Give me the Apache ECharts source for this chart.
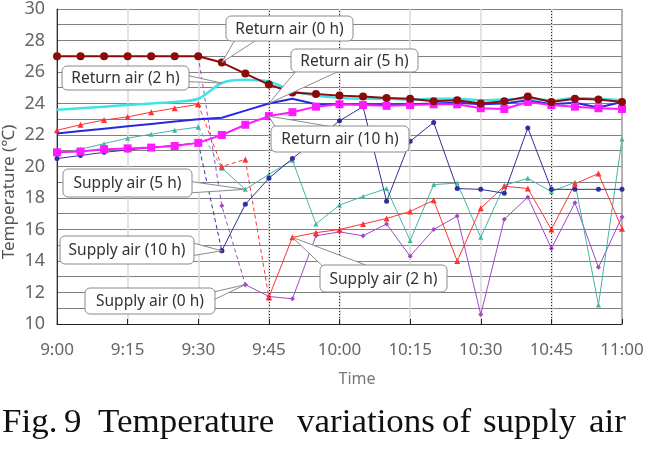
<!DOCTYPE html>
<html><head><meta charset="utf-8">
<script src="https://cdn.jsdelivr.net/npm/echarts@6/dist/echarts.min.js"></script>
<style>html,body{margin:0;padding:0;background:#fff}#c{width:650px;height:450px}</style>
</head><body><div id="c"></div>
<script>
const times = ['9:00','9:05','9:10','9:15','9:20','9:25','9:30','9:35','9:40','9:45','9:50','9:55','10:00','10:05','10:10','10:15','10:20','10:25','10:30','10:35','10:40','10:45','10:50','10:55','11:00'];
const returnAir0h  = [27,27,27,27,27,27,27,26.6,25.9,25.2,24.7,24.6,24.5,24.45,24.35,24.3,24.15,24.2,24.0,24.15,24.45,24.1,24.3,24.25,24.1];
const returnAir2h  = [23.6,23.7,23.8,23.9,24.0,24.1,24.3,25.3,25.5,25.4,24.8,24.5,24.35,24.3,24.3,24.25,24.3,24.3,24.2,24.25,24.3,24.2,24.35,24.3,24.2];
const returnAir5h  = [22.1,22.25,22.4,22.55,22.7,22.85,23.0,23.1,23.55,24.0,24.3,23.95,23.95,23.95,23.95,23.95,24.0,24.05,23.95,24.0,24.2,23.95,24.05,23.75,24.1];
const returnAir10h = [20.9,20.95,21.1,21.15,21.2,21.3,21.5,22.0,22.65,23.2,23.45,23.8,23.95,23.9,23.85,23.9,23.95,23.95,23.7,23.65,24.1,23.9,23.8,23.7,23.65];
const supplyAir0h  = [null,null,null,null,null,null,27,17.5,12.5,11.75,11.6,15.6,15.85,15.6,16.35,14.3,16.0,16.85,10.6,16.65,18.05,14.8,17.7,13.6,16.8];
const supplyAir2h  = [22.3,22.65,22.95,23.15,23.45,23.7,23.95,20.0,20.45,11.7,15.5,15.8,16.0,16.35,16.7,17.15,17.85,14.0,17.35,18.75,18.6,16.0,18.9,19.55,16.05];
const supplyAir5h  = [20.8,21.1,21.45,21.8,22.05,22.3,22.5,19.9,18.55,19.5,20.4,16.35,17.55,18.1,18.6,15.3,18.85,18.95,15.5,18.8,19.25,18.4,19.0,11.2,21.75];
const supplyAir10h = [20.5,20.7,20.9,21.05,21.2,21.35,21.5,14.65,17.6,19.25,20.5,21.7,22.9,23.8,17.8,21.6,22.8,18.6,18.55,18.3,22.45,18.55,18.55,18.55,18.55];

const chart = echarts.init(document.getElementById('c'), null, {renderer:'canvas'});
const FONT = '"Noto Sans", "Noto Sans CJK JP", sans-serif';

function splitDash(values, a, b) {
  return {
    s1: values.map((v,i)=> i<=a ? v : null),
    s2: values.map((v,i)=> i>=b ? v : null),
    d:  values.map((v,i)=> (i>=a && i<=b) ? v : null)
  };
}
function supplySeries(name, values, a, b, color, symbol, size) {
  const p = splitDash(values, a, b);
  const base = {type:'line', symbol, symbolSize:size, showSymbol:true, connectNulls:false,
    itemStyle:{color}, lineStyle:{color, width:1}, emphasis:{disabled:true}, z:2};
  return [
    Object.assign({}, base, {name, data:p.s1}),
    Object.assign({}, base, {name, data:p.s2}),
    Object.assign({}, base, {name, data:p.d, lineStyle:{color, width:1, type:[4,3]}})
  ];
}

const series = [].concat(
  supplySeries('Supply air (0 h)', supplyAir0h, 6, 8, '#A347C7', 'diamond', 5),
  supplySeries('Supply air (5 h)', supplyAir5h, 6, 7, '#45B5A5', 'triangle', 5),
  supplySeries('Supply air (2 h)', supplyAir2h, 6, 9, '#FF3333', 'triangle', 6),
  supplySeries('Supply air (10 h)', supplyAir10h, 6, 7, '#30309A', 'circle', 5),
  [
    {name:'Return air (5 h)', type:'line', data:returnAir5h, symbol:'none', lineStyle:{color:'#2828E0', width:2}, itemStyle:{color:'#2828E0'}, z:3,
      markLine:{silent:true, symbol:'none', label:{show:false}, lineStyle:{color:'#222', type:[1,2], width:1},
        data:[{xAxis:'9:45'},{xAxis:'10:00'},{xAxis:'10:45'}]}},
    {name:'Return air (2 h)', type:'line', data:returnAir2h, symbol:'none', smooth:0.3, lineStyle:{color:'#3FE3E3', width:2.5}, itemStyle:{color:'#3FE3E3'}, z:3},
    {name:'Return air (10 h)', type:'line', data:returnAir10h, symbol:'rect', symbolSize:8, lineStyle:{color:'#FF1AFF', width:2}, itemStyle:{color:'#FF1AFF'}, z:4},
    {name:'Return air (0 h)', type:'line', data:returnAir0h, symbol:'circle', symbolSize:8, lineStyle:{color:'#8B0A0A', width:2}, itemStyle:{color:'#8B0A0A'}, z:5}
  ]
);

chart.setOption({
  animation:false,
  grid:{left:57, right:28, top:6, bottom:126, containLabel:false},
  xAxis:{
    type:'category', data:times, boundaryGap:false,
    axisLine:{lineStyle:{color:'#222', width:1}},
    axisTick:{show:true, inside:true, interval:2, length:5, lineStyle:{color:'#222'}},
    axisLabel:{interval:2, fontSize:17, color:'#666', margin:18, fontFamily:FONT},
    splitLine:{show:true, interval:2, lineStyle:{width:1.5, color:['#999','#d8d8d8','#d8d8d8','#d8d8d8','#d8d8d8','#d8d8d8','#d8d8d8','#d8d8d8','#999']}}
  },
  yAxis:{
    type:'value', min:10, max:30, interval:1,
    axisLine:{show:true, lineStyle:{color:'#333'}},
    axisTick:{show:false},
    axisLabel:{formatter:v=> v%2===0 ? String(v) : '', fontSize:18, color:'#666', margin:12, fontFamily:FONT},
    splitLine:{show:true, lineStyle:{color:'#808080', width:1}}
  },
  series
});

const annotations = [
  {text:'Return air (0 h)',  box:[226,16,127,25], values:returnAir0h,  idx:7, side:'bottom', f:[0.07,0.24]},
  {text:'Return air (5 h)',  box:[291,49,127,23], values:returnAir5h,  idx:9, side:'bottom', f:[0.04,0.38]},
  {text:'Return air (10 h)', box:[271,126,138,26], values:returnAir10h, idx:9, side:'top', f:[0.03,0.45]},
  {text:'Return air (2 h)',  box:[62,66,127,24],  values:returnAir2h,  idx:7, side:'right', f:[0.4,0.65]},
  {text:'Supply air (5 h)',  box:[63,169,129,28], values:supplyAir5h,  idx:8, side:'right', f:[0.45,0.85]},
  {text:'Supply air (10 h)', box:[60,236,134,28], values:supplyAir10h, idx:7, side:'right', f:[0.25,0.7]},
  {text:'Supply air (0 h)',  box:[85,288,130,26], values:supplyAir0h,  idx:8, side:'right', f:[0.15,0.45]},
  {text:'Supply air (2 h)',  box:[320,265,127,27], values:supplyAir2h,  idx:10, side:'top', f:[0.02,0.38]}
];

const graphics = [];
annotations.forEach(a => {
  const [x,y,w,h] = a.box;
  const anchor = chart.convertToPixel({gridIndex:0}, [times[a.idx], a.values[a.idx]]);
  let p1, p2;
  if (a.side==='bottom'){ p1=[x+w*a.f[0], y+h-1]; p2=[x+w*a.f[1], y+h-1]; }
  else if (a.side==='top'){ p1=[x+w*a.f[0], y+1]; p2=[x+w*a.f[1], y+1]; }
  else if (a.side==='right'){ p1=[x+w-1, y+h*a.f[0]]; p2=[x+w-1, y+h*a.f[1]]; }
  else { p1=[x+1, y+h*a.f[0]]; p2=[x+1, y+h*a.f[1]]; }
  graphics.push({type:'polygon', z:100, shape:{points:[p1, anchor, p2]}, style:{fill:'#fff', stroke:'#8a8a8a', lineWidth:1}});
  graphics.push({type:'rect', z:101, shape:{x, y, width:w, height:h, r:5}, style:{fill:'#fff', stroke:'#8a8a8a', lineWidth:1}});
  graphics.push({type:'text', z:102, x:x+w/2, y:y+h/2+1, style:{text:a.text, align:'center', verticalAlign:'middle', fontSize:15.5, fontFamily:FONT, fill:'#333'}});
});

graphics.push({type:'text', z:50, x:9, y:192, rotation:Math.PI/2, style:{text:'Temperature (℃)', align:'center', verticalAlign:'middle', fontSize:17, fontFamily:FONT, fill:'#555'}});
graphics.push({type:'text', z:50, x:357, y:379, style:{text:'Time', align:'center', verticalAlign:'middle', fontSize:16, fontFamily:FONT, fill:'#777'}});

const captionWords = [['Fig.',2],['9',64],['Temperature',98],['variations',297],['of',442],['supply',483],['air',589]];
captionWords.forEach(([t,x]) => {
  graphics.push({type:'text', z:50, x, y:423, scaleX:1.06, style:{text:t, align:'left', verticalAlign:'middle', fontSize:33, fontFamily:'"Liberation Serif", "DejaVu Serif", serif', fill:'#111'}});
});

chart.setOption({graphic: graphics});
</script>
</body></html>
